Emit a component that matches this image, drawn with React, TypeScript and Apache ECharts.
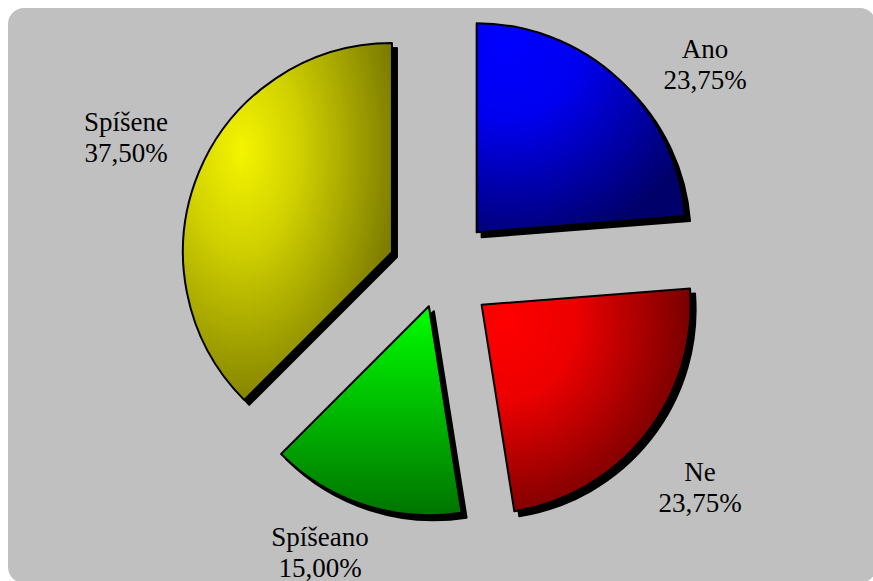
import React, { useEffect, useRef } from 'react';
import * as echarts from 'echarts';

// ---- data ----
const categories: string[] = ['Ano', 'Ne', 'Spíšeano', 'Spíšene'];
const values: number[] = [23.75, 23.75, 15.0, 37.5];

// ---- layout / style config ----
const explodeOffsets: number[] = [54, 53, 36, 52];
const labelPos: number[][] = [
  [705, 64],
  [700, 487],
  [320, 552],
  [126, 137],
];
const pieCenter: number[] = [440, 272];
const pieRadius = 209;

function makeFill(i: number) {
  const G = echarts.graphic;
  if (i === 0) {
    return new G.RadialGradient(0.15, 0.1, 1.0, [
      { offset: 0, color: '#0000ff' },
      { offset: 0.35, color: '#0000f0' },
      { offset: 1, color: '#00006a' },
    ]);
  }
  if (i === 1) {
    return new G.RadialGradient(0.1, 0.15, 1.0, [
      { offset: 0, color: '#ff0000' },
      { offset: 0.35, color: '#ec0000' },
      { offset: 1, color: '#640000' },
    ]);
  }
  if (i === 2) {
    return new G.LinearGradient(0, 0, 0, 1, [
      { offset: 0, color: '#00ff00' },
      { offset: 1, color: '#007400' },
    ]);
  }
  return new G.RadialGradient(0.28, 0.3, 0.8, [
    { offset: 0, color: '#f4f400' },
    { offset: 0.35, color: '#d0d000' },
    { offset: 1, color: '#747400' },
  ]);
}

function fmt(v: number) {
  return v.toFixed(2).replace('.', ',') + '%';
}

export default function App() {
  const ref = useRef<HTMLDivElement>(null);

  useEffect(() => {
    if (!ref.current) return;
    const chart = echarts.init(ref.current, undefined, { renderer: 'svg' });

    const series = categories.map((_, i) => ({
      type: 'pie',
      silent: true,
      center: pieCenter,
      radius: [0, pieRadius],
      startAngle: 90,
      clockwise: true,
      avoidLabelOverlap: false,
      selectedMode: 'multiple',
      selectedOffset: explodeOffsets[i],
      select: { itemStyle: { borderColor: '#000000', borderWidth: 2 } },
      emphasis: { disabled: true },
      labelLine: { show: false },
      label: { show: false },
      data: categories.map((name, j) => ({
        name,
        value: values[j],
        selected: j === i,
        itemStyle:
          j === i
            ? {
                color: makeFill(j),
                borderColor: '#000000',
                borderWidth: 2,
                shadowColor: '#000000',
                shadowBlur: 0,
                shadowOffsetX: 5,
                shadowOffsetY: 5,
              }
            : {
                color: 'rgba(0,0,0,0)',
                borderWidth: 0,
                shadowColor: 'rgba(0,0,0,0)',
              },
      })),
    }));

    const labels = categories.map((name, i) => ({
      type: 'text',
      z: 10,
      silent: true,
      x: labelPos[i][0],
      y: labelPos[i][1],
      style: {
        text: `${name}\n${fmt(values[i])}`,
        fill: '#000000',
        fontFamily: 'Liberation Serif',
        fontSize: 27,
        lineHeight: 31,
        align: 'center',
        verticalAlign: 'middle',
      },
    }));

    chart.setOption({
      animation: false,
      backgroundColor: '#ffffff',
      graphic: [
        {
          type: 'rect',
          z: -1,
          silent: true,
          shape: { x: 8, y: 8, width: 868, height: 575, r: 16 },
          style: { fill: '#c0c0c0' },
        },
        ...labels,
      ],
      series,
    } as any);

    return () => chart.dispose();
  }, []);

  return (
    <div
      ref={ref}
      style={{ position: 'fixed', left: 0, top: 0, width: 873, height: 581 }}
    />
  );
}
